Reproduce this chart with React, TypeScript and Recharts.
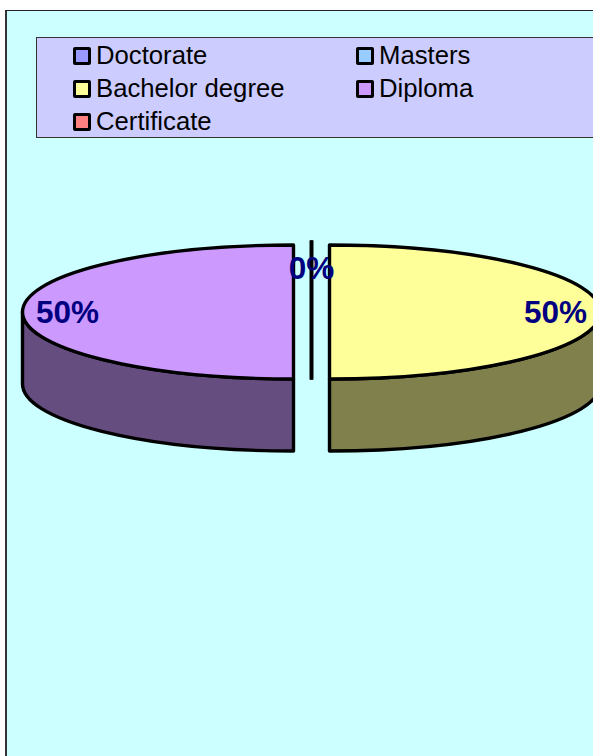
import React from 'react';
import { PieChart, Pie, Legend } from 'recharts';

const categories = ['Doctorate', 'Masters', 'Bachelor degree', 'Diploma', 'Certificate'];
const values = [0, 0, 50, 50, 0];
const topColors = ['#9999FF', '#99CCFF', '#FFFF99', '#CC99FF', '#FF8080'];
const wallColors = ['#4D4D80', '#4D6680', '#80804D', '#664D80', '#804040'];

const rows = categories.map((name, i) => ({ name, value: values[i], fill: topColors[i], wall: wallColors[i] }));

const W = 593;
const H = 756;
const CX = 312;
const CY = 312;
const RX = 271;
const RY = 67;
const DEPTH = 72;
const EXPLODE = 18;
const RAD = Math.PI / 180;

function Slice(props: any) {
  const { cx, cy, startAngle: a0, endAngle: a1, payload } = props;
  const mid = ((a0 + a1) / 2) * RAD;
  const ox = cx + EXPLODE * Math.cos(mid);
  const oy = cy - (EXPLODE * RY / RX) * Math.sin(mid);
  const px = (a: number) => ox + RX * Math.cos(a * RAD);
  const py = (a: number) => oy - RY * Math.sin(a * RAD);
  const stroke = { stroke: '#000', strokeWidth: 3.4, strokeLinejoin: 'round' as const };
  if (Math.abs(a1 - a0) < 0.01) {
    return <line x1={px(a0)} y1={py(a0)} x2={ox} y2={oy + DEPTH} {...stroke} />;
  }
  const from = Math.min(a0, 0) > -180 ? Math.min(a0, 0) : -180;
  const to = Math.max(a1, -180);
  const large = Math.abs(a0 - a1) > 180 ? 1 : 0;
  return (
    <g>
      {from > to && (
        <path
          d={`M${px(from)},${py(from)} A${RX},${RY} 0 0 1 ${px(to)},${py(to)} L${px(to)},${py(to) + DEPTH} A${RX},${RY} 0 0 0 ${px(from)},${py(from) + DEPTH} Z`}
          fill={payload.wall}
          {...stroke}
        />
      )}
      <path
        d={`M${ox},${oy} L${px(a0)},${py(a0)} A${RX},${RY} 0 ${large} 1 ${px(a1)},${py(a1)} Z`}
        fill={payload.fill}
        {...stroke}
      />
    </g>
  );
}

function SliceLabel(props: any) {
  const { cx, cy, midAngle, percent, index, value } = props;
  if (value === 0 && index !== 0) return null;
  const r = value === 0 ? 0.657 : 0.834;
  const x = cx + (EXPLODE + RX * r) * Math.cos(midAngle * RAD);
  const y = cy - RY * r * Math.sin(midAngle * RAD);
  return (
    <text
      x={x}
      y={y}
      textAnchor="middle"
      dominantBaseline="central"
      fill="#000080"
      fontFamily="'Liberation Sans', Arial, sans-serif"
      fontWeight="bold"
      fontSize={31.5}
    >
      {`${Math.round(percent * 100)}%`}
    </text>
  );
}

function LegendBox(props: any) {
  const items = props.payload ?? [];
  return (
    <div
      style={{
        display: 'grid',
        gridTemplateColumns: '283px 1fr',
        gridAutoRows: '33px',
        width: 593,
        height: 101,
        boxSizing: 'border-box',
        background: '#CCCCFF',
        border: '1px solid #333',
        padding: '1px 0 0 36px',
        fontFamily: "'Liberation Sans', Arial, sans-serif",
        fontSize: 25.7,
        color: '#000',
      }}
    >
      {items.map((it: any) => (
        <div key={it.value} style={{ display: 'flex', alignItems: 'center', whiteSpace: 'nowrap' }}>
          <span
            style={{
              width: 18,
              height: 18,
              boxSizing: 'border-box',
              border: '3.5px solid #000',
              borderRadius: 2,
              background: it.payload?.fill ?? it.color,
              marginRight: 5,
              flex: 'none',
            }}
          />
          {it.value}
        </div>
      ))}
    </div>
  );
}

export default function App() {
  return (
    <div style={{ position: 'absolute', left: 0, top: 0, width: W, height: H, overflow: 'hidden', background: '#fff' }}>
      <div
        style={{
          position: 'absolute',
          left: 5,
          top: 10,
          width: 700,
          height: 800,
          background: '#CCFFFF',
          borderLeft: '2px solid #333',
          borderTop: '1px solid #222',
        }}
      />
      <div style={{ position: 'absolute', left: 0, top: 0 }}>
        <PieChart width={W} height={H} margin={{ top: 0, right: 0, bottom: 0, left: 0 }}>
          <Legend
            content={<LegendBox />}
            verticalAlign="middle"
            itemSorter={null}
            wrapperStyle={{ position: 'absolute', left: 36, top: 37, width: 593, height: 101 }}
          />
          <Pie
            data={rows}
            dataKey="value"
            nameKey="name"
            cx={CX - 0.5}
            cy={CY}
            outerRadius={RX}
            startAngle={90}
            endAngle={-270}
            stroke="none"
            isAnimationActive={false}
            shape={<Slice />}
            label={<SliceLabel />}
            labelLine={false}
          />
        </PieChart>
      </div>
    </div>
  );
}
